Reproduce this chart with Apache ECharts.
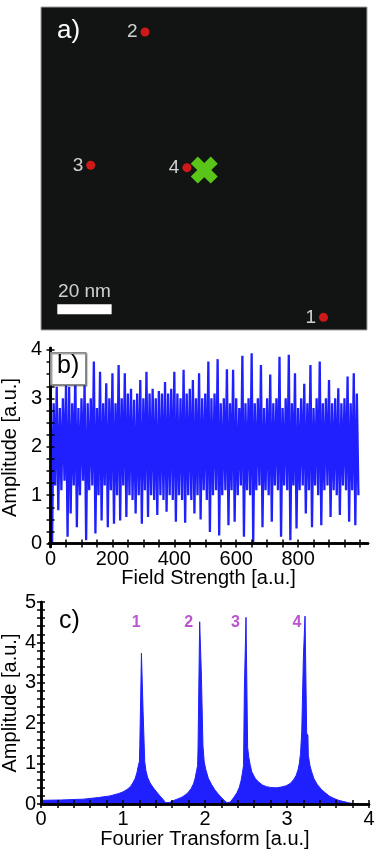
<!DOCTYPE html>
<html>
<head>
<meta charset="utf-8">
<script src="https://cdn.jsdelivr.net/npm/echarts@6/dist/echarts.min.js"></script>
<style>
html, body { margin: 0; padding: 0; background: #fff; }
#chart { width: 382px; height: 854px; }
</style>
</head>
<body>
<div id="chart"></div>
<script>
// a) emitter positions (nm)
const dotNames = ['1', '2', '3', '4'];
const dotX = [104.0, 38.3, 18.3, 53.7];
const dotY = [4.7, 110.7, 61.2, 60.3];
const crossPos = [60.1, 59.4];
const scaleBarX = [6, 26];
const scaleBarY = 7.7;
const scaleBarText = '20 nm';

// b) signal, upper / lower excursion per step of 10
const fieldStep = 10;
const sigHi = [
  3.35, 2.9, 3.24, 2.8, 3.0, 3.28, 3.24, 2.9, 3.55, 2.8,
  3.0, 3.31, 2.9, 3.0, 3.76, 2.8, 3.55, 2.9, 3.31, 3.0,
  3.52, 2.9, 3.69, 3.0, 3.52, 3.1, 3.2, 2.97, 3.1, 3.38,
  3.0, 3.55, 3.1, 3.2, 3.0, 3.15, 3.1, 3.34, 3.1, 3.2,
  3.55, 3.1, 3.0, 3.59, 3.1, 3.2, 3.38, 3.0, 3.52, 3.0,
  3.1, 3.76, 3.0, 3.1, 3.81, 2.9, 3.0, 3.6, 2.9, 3.59,
  3.0, 2.8, 3.88, 2.9, 3.0, 3.93, 2.9, 3.0, 3.69, 2.8,
  3.0, 3.49, 2.9, 3.0, 3.86, 2.8, 3.0, 3.9, 2.9, 3.52,
  2.8, 3.0, 3.3, 2.9, 3.69, 2.8, 3.0, 3.76, 2.9, 3.0,
  3.38, 2.9, 3.0, 3.21, 2.9, 3.0, 3.45, 2.9, 3.52, 3.1
];
const sigLo = [
  0.02, 1.2, 0.69, 1.1, 1.3, 0.14, 0.62, 1.2, 0.34, 1.0,
  1.3, 0.07, 1.1, 1.2, 0.21, 1.0, 0.48, 1.2, 0.34, 1.1,
  0.41, 1.0, 0.48, 1.2, 0.55, 1.0, 0.9, 0.62, 1.0, 0.41,
  1.1, 0.55, 1.0, 0.9, 0.59, 1.0, 0.9, 0.66, 1.0, 0.9,
  0.45, 1.0, 0.9, 0.43, 1.0, 0.9, 0.62, 1.0, 0.5, 1.1,
  0.9, 0.24, 1.0, 1.1, 0.17, 1.0, 1.1, 0.38, 1.1, 0.45,
  1.0, 1.2, 0.14, 1.1, 1.0, 0.03, 1.1, 1.2, 0.34, 1.1,
  1.0, 0.45, 1.2, 1.1, 0.14, 1.2, 1.1, 0.07, 1.2, 0.31,
  1.1, 1.2, 0.62, 1.1, 0.34, 1.2, 1.0, 0.38, 1.1, 1.2,
  0.55, 1.1, 1.0, 0.59, 1.2, 1.1, 0.45, 1.1, 0.38, 1.0
];
const fieldLabels = [0, 200, 400, 600, 800];
const ampLabelsB = [0, 1, 2, 3, 4];

// c) Fourier spectrum
const ftX = [
  0.00, 0.25, 0.52, 0.70, 0.84, 0.95, 1.00, 1.05, 1.09, 1.12,
  1.15, 1.17, 1.185, 1.20, 1.205, 1.22, 1.225, 1.24, 1.245, 1.26,
  1.265, 1.28, 1.30, 1.33, 1.37, 1.41, 1.45, 1.49, 1.52, 1.54,
  1.57, 1.61, 1.66, 1.72, 1.77, 1.80, 1.83, 1.86, 1.88, 1.895,
  1.91, 1.915, 1.93, 1.935, 1.95, 1.955, 1.97, 1.975, 1.99, 2.01,
  2.04, 2.08, 2.12, 2.16, 2.20, 2.24, 2.27, 2.29, 2.31, 2.35,
  2.39, 2.42, 2.44, 2.455, 2.47, 2.48, 2.495, 2.50, 2.515, 2.52,
  2.535, 2.55, 2.57, 2.61, 2.65, 2.70, 2.75, 2.80, 2.87, 2.93,
  2.99, 3.04, 3.08, 3.11, 3.135, 3.15, 3.165, 3.18, 3.195, 3.20,
  3.215, 3.22, 3.235, 3.24, 3.255, 3.26, 3.28, 3.30, 3.33, 3.37,
  3.42, 3.47, 3.52, 3.57, 3.63, 3.69, 3.75, 3.81, 3.90, 4.00
];
const ftY = [
  0.09, 0.10, 0.12, 0.16, 0.20, 0.26, 0.30, 0.36, 0.43, 0.52,
  0.64, 0.78, 0.93, 1.05, 1.45, 1.45, 3.73, 3.73, 2.29, 2.29,
  1.05, 0.82, 0.66, 0.52, 0.40, 0.30, 0.20, 0.11, 0.03, 0.01,
  0.04, 0.08, 0.12, 0.17, 0.24, 0.30, 0.38, 0.50, 0.64, 0.80,
  0.95, 1.36, 1.36, 4.51, 4.51, 3.27, 3.27, 1.45, 1.05, 0.85,
  0.64, 0.48, 0.35, 0.25, 0.16, 0.08, 0.03, 0.01, 0.05, 0.16,
  0.28, 0.42, 0.58, 0.75, 0.95, 2.84, 2.84, 4.62, 4.62, 1.40,
  1.15, 0.98, 0.80, 0.64, 0.55, 0.47, 0.43, 0.41, 0.40, 0.42,
  0.45, 0.51, 0.60, 0.70, 0.85, 1.00, 1.25, 1.80, 1.80, 3.64,
  3.64, 4.65, 4.65, 1.75, 1.70, 1.20, 0.95, 0.80, 0.62, 0.48,
  0.36, 0.27, 0.19, 0.14, 0.09, 0.06, 0.03, 0.01, 0.00, 0.00
];
const peakNames = ['1', '2', '3', '4'];
const peakLabelX = [1.16, 1.80, 2.37, 3.12];
const peakLabelY = 4.48;
const ftLabels = [0, 1, 2, 3, 4];
const ampLabelsC = [0, 1, 2, 3, 4, 5];

const FONT = "'Liberation Sans', Arial, sans-serif";
const BLUE = '#2020ff';

function steps(from, to, step) {
  const out = [];
  for (let v = from; v <= to + 1e-9; v += step) out.push(+v.toFixed(4));
  return out;
}

// bottom/left axes with labels + top/right mirror axes, ticks inside
function frame(grid, xr, yr, xLab, yLab, xTicks, yTicks, xName, yName, gaps) {
  const tick = { show: true, inside: true, length: 4, lineStyle: { color: '#000', width: 1.5 } };
  const line = { show: true, lineStyle: { color: '#000', width: 2.5 } };
  const lab = { color: '#000', fontSize: 20, fontFamily: FONT };
  const nameStyle = { color: '#000', fontSize: 20, fontFamily: FONT };
  const xs = [
    {
      gridIndex: grid, type: 'value', position: 'bottom', min: xr[0], max: xr[1], z: 5,
      axisLine: line, axisTick: Object.assign({ customValues: xTicks }, tick),
      axisLabel: Object.assign({ customValues: xLab, margin: gaps.xm }, lab),
      splitLine: { show: false },
      name: xName, nameLocation: 'middle', nameGap: gaps.x, nameMoveOverlap: false,
      nameTextStyle: nameStyle
    },
    {
      gridIndex: grid, type: 'value', position: 'top', min: xr[0], max: xr[1], z: 5,
      axisLine: line, axisTick: Object.assign({ customValues: xTicks }, tick),
      axisLabel: { show: false }, splitLine: { show: false }
    }
  ];
  const ys = [
    {
      gridIndex: grid, type: 'value', position: 'left', min: yr[0], max: yr[1], z: 5,
      axisLine: line, axisTick: Object.assign({ customValues: yTicks }, tick),
      axisLabel: Object.assign({ customValues: yLab, margin: gaps.ym }, lab),
      splitLine: { show: false },
      name: yName, nameLocation: 'middle', nameGap: gaps.y, nameMoveOverlap: false,
      nameTextStyle: nameStyle
    },
    {
      gridIndex: grid, type: 'value', position: 'right', min: yr[0], max: yr[1], z: 5,
      axisLine: line, axisTick: Object.assign({ customValues: yTicks }, tick),
      axisLabel: { show: false }, splitLine: { show: false }
    }
  ];
  return { xs, ys };
}

const chart = echarts.init(document.getElementById('chart'), null, { renderer: 'canvas' });

const fb = frame(1, [-5, 1026], [-0.07, 4.04], fieldLabels, ampLabelsB,
  steps(0, 1000, 50), steps(0, 4, 0.25),
  'Field Strength [a.u.]', 'Amplitude [a.u.]', { x: 21, y: 29, xm: 2, ym: 7 });
const fc = frame(2, [0, 4], [0, 5], ftLabels, ampLabelsC,
  steps(0, 4, 0.2), steps(0, 5, 0.2),
  'Fourier Transform [a.u.]', 'Amplitude [a.u.]', { x: 25, y: 21, xm: 5, ym: 5 });

const signal = [];
sigHi.forEach((h, i) => {
  signal.push([i * fieldStep, h]);
  signal.push([i * fieldStep + fieldStep / 2, sigLo[i]]);
});

const option = {
  animation: false,
  backgroundColor: '#fff',
  textStyle: { fontFamily: FONT },
  grid: [
    { left: 41, top: 7, width: 326, height: 323, show: true, backgroundColor: '#121313',
      borderColor: '#a0a0a0', borderWidth: 1, outerBoundsMode: 'none' },
    { left: 49, top: 348, width: 319, height: 199, outerBoundsMode: 'none' },
    { left: 41, top: 602, width: 328, height: 202, outerBoundsMode: 'none' }
  ],
  xAxis: [{ gridIndex: 0, type: 'value', min: 0, max: 120, show: false }].concat(fb.xs, fc.xs),
  yAxis: [{ gridIndex: 0, type: 'value', min: 0, max: 120, show: false }].concat(fb.ys, fc.ys),
  graphic: [
    { type: 'text', left: 57, top: 18, z: 10,
      style: { text: 'a)', fill: '#fff', font: '26px ' + FONT } },
    { type: 'rect', left: 50, top: 352, z: 10,
      shape: { width: 35, height: 32 },
      style: { fill: '#fff', stroke: '#8a8a8a', lineWidth: 1.5,
        shadowColor: 'rgba(0,0,0,0.35)', shadowOffsetX: 1, shadowOffsetY: 1, shadowBlur: 1 } },
    { type: 'text', left: 57, top: 354, z: 11,
      style: { text: 'b)', fill: '#000', font: '25px ' + FONT } },
    { type: 'text', left: 59, top: 609, z: 10,
      style: { text: 'c)', fill: '#000', font: '25px ' + FONT } }
  ],
  series: [
    {
      type: 'scatter', xAxisIndex: 0, yAxisIndex: 0, symbolSize: 9,
      itemStyle: { color: '#ff1a1a' },
      label: { show: true, position: 'left', distance: 3, formatter: '{b}',
        color: '#fff', fontSize: 19, fontFamily: FONT },
      data: dotX.map((x, i) => ({ name: dotNames[i], value: [x, dotY[i]] }))
    },
    {
      type: 'scatter', xAxisIndex: 0, yAxisIndex: 0, symbolSize: 27,
      symbol: 'path://M0,2.6 L2.6,0 L5,2.4 L7.4,0 L10,2.6 L7.6,5 L10,7.4 L7.4,10 L5,7.6 L2.6,10 L0,7.4 L2.4,5 Z',
      itemStyle: { color: '#6cf21c' },
      data: [crossPos]
    },
    {
      type: 'line', xAxisIndex: 0, yAxisIndex: 0, symbol: 'none',
      lineStyle: { color: '#fff', width: 10, cap: 'butt' },
      data: scaleBarX.map(x => [x, scaleBarY])
    },
    {
      type: 'scatter', xAxisIndex: 0, yAxisIndex: 0, symbolSize: 0,
      label: { show: true, position: 'inside', formatter: scaleBarText,
        color: '#fff', fontSize: 19, fontFamily: FONT },
      data: [[(scaleBarX[0] + scaleBarX[1]) / 2, 14.2]]
    },
    {
      type: 'line', xAxisIndex: 1, yAxisIndex: 1, symbol: 'none', z: 2,
      sampling: 'none', lineStyle: { color: BLUE, width: 2.3, join: 'bevel' },
      data: signal
    },
    {
      type: 'line', xAxisIndex: 3, yAxisIndex: 3, symbol: 'none', z: 2,
      lineStyle: { color: BLUE, width: 1 },
      areaStyle: { color: BLUE, opacity: 1 },
      data: ftX.map((x, i) => [x, ftY[i]])
    },
    {
      type: 'scatter', xAxisIndex: 3, yAxisIndex: 3, symbolSize: 0, z: 6,
      label: { show: true, position: 'inside', formatter: '{b}',
        color: '#a92ac2', fontSize: 16, fontWeight: 'bold', fontFamily: FONT },
      data: peakLabelX.map((x, i) => ({ name: peakNames[i], value: [x, peakLabelY] }))
    }
  ]
};

chart.setOption(option);
</script>
</body>
</html>
